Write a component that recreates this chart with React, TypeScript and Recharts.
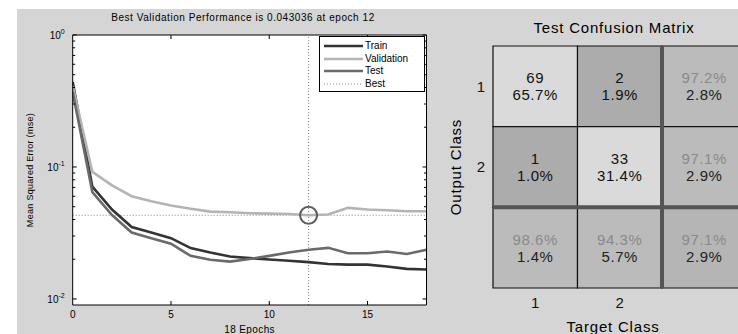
import {
  LineChart,
  Line,
  XAxis,
  YAxis,
  CartesianGrid,
  ReferenceLine,
  ReferenceDot,
  ComposedChart,
  ReferenceArea,
  Scatter,
} from "recharts";

// ---- performance plot data ----
const epochs = [0, 1, 2, 3, 4, 5, 6, 7, 8, 9, 10, 11, 12, 13, 14, 15, 16, 17, 18];
const trainMse = [
  0.44, 0.0709, 0.0476, 0.0351, 0.0319, 0.0289, 0.0243, 0.0225, 0.021, 0.0204,
  0.0199, 0.0195, 0.019, 0.0184, 0.0182, 0.0182, 0.0176, 0.0169, 0.0167,
];
const validationMse = [
  0.41, 0.0917, 0.0726, 0.0601, 0.055, 0.051, 0.0482, 0.0459, 0.0454, 0.0446,
  0.0443, 0.044, 0.043036, 0.0437, 0.049, 0.0476, 0.047, 0.0462, 0.0462,
];
const testMse = [
  0.37, 0.0645, 0.0432, 0.0319, 0.0289, 0.0262, 0.0212, 0.0198, 0.0192, 0.0201,
  0.0212, 0.0225, 0.0236, 0.0244, 0.0222, 0.0222, 0.0229, 0.0219, 0.0236,
];
const bestEpoch = 12;
const bestValidation = 0.043036;

const xTicks = [0, 5, 10, 15];
const xTopTicks = [5, 10, 15];
const yTicks = [
  0.01, 0.02, 0.03, 0.04, 0.05, 0.06, 0.07, 0.08, 0.09,
  0.1, 0.2, 0.3, 0.4, 0.5, 0.6, 0.7, 0.8, 0.9, 1,
];

const seriesMeta = [
  { key: "train", name: "Train", color: "#333333" },
  { key: "validation", name: "Validation", color: "#b4b4b4" },
  { key: "test", name: "Test", color: "#6a6a6a" },
];

// ---- confusion matrix data ----
const classLabels = [1, 2];
const counts = [
  [69, 2],
  [1, 33],
];
const countPct = [
  ["65.7%", "1.9%"],
  ["1.0%", "31.4%"],
];
const rowAcc = ["97.2%", "97.1%"];
const rowErr = ["2.8%", "2.9%"];
const colAcc = ["98.6%", "94.3%"];
const colErr = ["1.4%", "5.7%"];
const overall = ["97.1%", "2.9%"];

const GRAY = "#d5d5d5";
const FONT = '"Liberation Sans", Arial, sans-serif';

const perfData = epochs.map((epoch, i) => ({
  epoch,
  train: trainMse[i],
  validation: validationMse[i],
  test: testMse[i],
}));

type Cell = { row: number; col: number; top: string; bottom: string; kind: string };
const cells: Cell[] = [];
classLabels.forEach((_, r) => {
  classLabels.forEach((__, c) => {
    cells.push({
      row: r + 1,
      col: c + 1,
      top: String(counts[r][c]),
      bottom: countPct[r][c],
      kind: r === c ? "hit" : "miss",
    });
  });
  cells.push({ row: r + 1, col: 3, top: rowAcc[r], bottom: rowErr[r], kind: "sum" });
});
classLabels.forEach((_, c) => {
  cells.push({ row: 3, col: c + 1, top: colAcc[c], bottom: colErr[c], kind: "sum" });
});
cells.push({ row: 3, col: 3, top: overall[0], bottom: overall[1], kind: "all" });

const cellFill: Record<string, string> = {
  hit: "#dadada",
  miss: "#acacac",
  sum: "#bbbbbb",
  all: "#b5b5b5",
};

const isMajor = (v: number) => Math.abs(Math.log10(v) - Math.round(Math.log10(v))) < 1e-6;

function LeftLogTick(props: any) {
  const { x, y, payload } = props;
  const v = payload.value;
  const major = isMajor(v);
  return (
    <g>
      <line x1={x} x2={x + (major ? 4 : 2.5)} y1={y} y2={y} stroke="#000" />
      {major && (
        <text x={x - 8} y={y + 4} textAnchor="end" fontSize={10} fill="#000" fontFamily={FONT}>
          10
          <tspan dy={-5} fontSize={7}>
            {Math.round(Math.log10(v))}
          </tspan>
        </text>
      )}
    </g>
  );
}

function RightLogTick(props: any) {
  const { x, y, payload } = props;
  const major = isMajor(payload.value);
  return <line x1={x} x2={x - (major ? 4 : 2.5)} y1={y} y2={y} stroke="#000" />;
}

function BottomTick(props: any) {
  const { x, y, payload } = props;
  return (
    <g>
      {payload.value !== 0 && <line x1={x} x2={x} y1={y} y2={y - 4} stroke="#000" />}
      <text x={x} y={y + 13} textAnchor="middle" fontSize={10} fill="#000" fontFamily={FONT}>
        {payload.value}
      </text>
    </g>
  );
}

function TopTick(props: any) {
  const { x, y } = props;
  return <line x1={x} x2={x} y1={y} y2={y + 4} stroke="#000" />;
}

function CellText(props: any) {
  const { cx, cy, payload } = props;
  const summary = payload.kind === "sum" || payload.kind === "all";
  return (
    <g fontFamily={FONT} fontSize={15} textAnchor="middle" letterSpacing={0.6}>
      <text x={cx} y={cy - 3} fill={summary ? "#8a8a8a" : "#111"}>
        {payload.top}
      </text>
      <text x={cx} y={cy + 14} fill={summary ? "#222" : "#111"}>
        {payload.bottom}
      </text>
    </g>
  );
}

const bigText = {
  position: "absolute" as const,
  whiteSpace: "nowrap" as const,
  fontSize: 15,
  letterSpacing: 0.8,
  fontFamily: FONT,
  lineHeight: "16px",
};

function PerformancePanel() {
  return (
    <div style={{ position: "absolute", left: 17, top: 9, width: 420, height: 325, background: GRAY }}>
      <LineChart
        width={420}
        height={325}
        data={perfData}
        margin={{ top: 25, right: 9.5, bottom: 9, left: 15.7 }}
      >
        <CartesianGrid horizontal={false} vertical={false} fill="#fff" />
        <XAxis
          dataKey="epoch"
          type="number"
          domain={[0, 18]}
          ticks={xTicks}
          interval={0}
          height={20}
          tickSize={0}
          tickMargin={0}
          tick={BottomTick}
          axisLine={{ stroke: "#000" }}
          allowDataOverflow
        />
        <XAxis
          xAxisId="top"
          orientation="top"
          type="number"
          domain={[0, 18]}
          ticks={xTopTicks}
          interval={0}
          height={1}
          tickSize={0}
          tickMargin={0}
          tick={TopTick}
          axisLine={{ stroke: "#000" }}
          allowDataOverflow
        />
        <YAxis
          scale="log"
          type="number"
          domain={[0.009, 1]}
          ticks={yTicks}
          interval={0}
          width={40}
          tickSize={0}
          tickMargin={0}
          tick={LeftLogTick}
          axisLine={{ stroke: "#000" }}
          allowDataOverflow
        />
        <YAxis
          yAxisId="right"
          orientation="right"
          scale="log"
          type="number"
          domain={[0.009, 1]}
          ticks={yTicks}
          interval={0}
          width={1}
          tickSize={0}
          tickMargin={0}
          tick={RightLogTick}
          axisLine={{ stroke: "#000" }}
          allowDataOverflow
        />
        <ReferenceLine x={bestEpoch} stroke="#888" strokeDasharray="1 2" />
        <ReferenceLine y={bestValidation} stroke="#888" strokeDasharray="1 2" />
        {seriesMeta.map((s) => (
          <Line
            key={s.key}
            type="linear"
            dataKey={s.key}
            stroke={s.color}
            strokeWidth={2.6}
            dot={false}
            isAnimationActive={false}
          />
        ))}
        <ReferenceDot
          x={bestEpoch}
          y={bestValidation}
          r={8.5}
          fill="none"
          stroke="#5e5e5e"
          strokeWidth={2}
        />
      </LineChart>

      <div
        style={{
          position: "absolute",
          left: 226,
          top: 3,
          transform: "translateX(-50%)",
          whiteSpace: "nowrap",
          fontSize: 10,
          letterSpacing: 0.55,
          lineHeight: "12px",
          fontFamily: FONT,
        }}
      >
        Best Validation Performance is 0.043036 at epoch 12
      </div>
      <div
        style={{
          position: "absolute",
          left: 13,
          top: 161,
          transform: "translate(-50%, -50%) rotate(-90deg)",
          whiteSpace: "nowrap",
          fontSize: 9,
          letterSpacing: 0.3,
          lineHeight: "10px",
          fontFamily: FONT,
        }}
      >
        Mean Squared Error (mse)
      </div>
      <div
        style={{
          position: "absolute",
          left: 232.6,
          top: 321,
          transform: "translate(-50%, -50%)",
          whiteSpace: "nowrap",
          fontSize: 10,
          letterSpacing: 0.4,
          lineHeight: "12px",
          fontFamily: FONT,
        }}
      >
        18 Epochs
      </div>

      {/* legend */}
      <div
        style={{
          position: "absolute",
          left: 302,
          top: 27,
          width: 106,
          height: 56,
          background: "#fff",
          border: "1px solid #000",
          boxSizing: "border-box",
          fontFamily: FONT,
          fontSize: 10,
        }}
      >
        {[...seriesMeta.map((s) => ({ name: s.name, color: s.color, dotted: false })),
          { name: "Best", color: "#888", dotted: true }].map((item, i) => (
          <div
            key={item.name}
            style={{ position: "absolute", left: 0, top: 3 + i * 12.5, height: 12, width: 104 }}
          >
            <svg width={44} height={12} style={{ position: "absolute", left: 3, top: 0 }}>
              <line
                x1={1}
                x2={40}
                y1={6}
                y2={6}
                stroke={item.color}
                strokeWidth={item.dotted ? 1 : 2.6}
                strokeDasharray={item.dotted ? "1 2" : undefined}
              />
            </svg>
            <span style={{ position: "absolute", left: 45, top: 0, lineHeight: "12px" }}>{item.name}</span>
          </div>
        ))}
      </div>
    </div>
  );
}

function ConfusionPanel() {
  return (
    <div style={{ position: "absolute", left: 437, top: 9, width: 310, height: 325, background: GRAY }}>
      <ComposedChart
        width={310}
        height={325}
        data={cells}
        margin={{ top: 37, right: 0.5, bottom: 16, left: 16 }}
      >
        <XAxis
          dataKey="col"
          type="number"
          domain={[0.5, 3.5]}
          ticks={classLabels}
          interval={0}
          height={30}
          tickSize={0}
          tickMargin={9}
          axisLine={false}
          tickLine={false}
          tick={{ fontSize: 15, fill: "#111", fontFamily: FONT }}
        />
        <YAxis
          dataKey="row"
          type="number"
          domain={[0.5, 3.5]}
          reversed
          ticks={classLabels}
          interval={0}
          width={40}
          tickSize={0}
          tickMargin={8}
          axisLine={false}
          tickLine={false}
          tick={{ fontSize: 15, fill: "#111", fontFamily: FONT }}
        />
        {cells.map((c) => (
          <ReferenceArea
            key={`${c.row}-${c.col}`}
            x1={c.col - 0.5}
            x2={c.col + 0.5}
            y1={c.row - 0.5}
            y2={c.row + 0.5}
            fill={cellFill[c.kind]}
            fillOpacity={1}
            stroke="#111"
            strokeWidth={1.2}
          />
        ))}
        <ReferenceLine x={2.5} stroke="#555" strokeWidth={4} />
        <ReferenceLine y={2.5} stroke="#555" strokeWidth={4} />
        <Scatter dataKey="row" shape={CellText} isAnimationActive={false} />
      </ComposedChart>

      <div style={{ ...bigText, left: 177, top: 19, transform: "translate(-50%, -50%)" }}>
        Test Confusion Matrix
      </div>
      <div style={{ ...bigText, left: 176, top: 318, transform: "translate(-50%, -50%)" }}>
        Target Class
      </div>
      <div
        style={{ ...bigText, left: 19, top: 158, transform: "translate(-50%, -50%) rotate(-90deg)" }}
      >
        Output Class
      </div>
    </div>
  );
}

export default function App() {
  return (
    <div
      style={{
        position: "relative",
        width: 738,
        height: 334,
        overflow: "hidden",
        background: "#fff",
        fontFamily: FONT,
      }}
    >
      <style>{`body{margin:0}`}</style>
      <PerformancePanel />
      <ConfusionPanel />
    </div>
  );
}
